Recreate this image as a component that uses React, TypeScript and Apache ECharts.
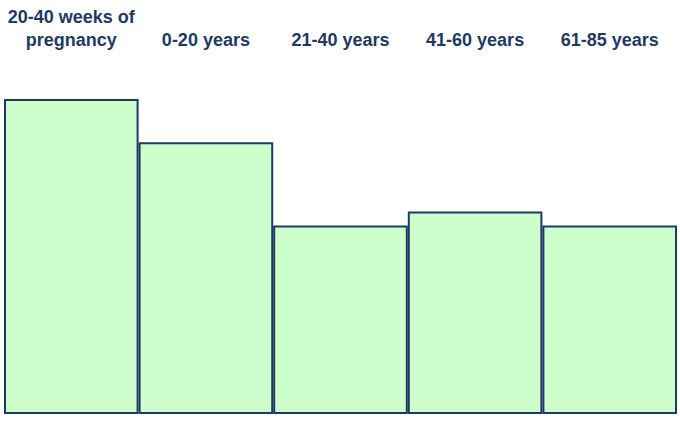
import React, { useEffect, useRef } from "react";
import * as echarts from "echarts";

const categories = ["20-40 weeks of\npregnancy", "0-20 years", "21-40 years", "41-60 years", "61-85 years"];
const values = [314, 271, 188, 202, 188];
const yMax = 353;

export default function App() {
  const ref = useRef<HTMLDivElement>(null);
  useEffect(() => {
    const chart = echarts.init(ref.current!, null, { renderer: "svg" });
    chart.setOption({
      animation: false,
      backgroundColor: "#ffffff",
      grid: { left: 4, right: 3, top: 60, bottom: 11 },
      xAxis: {
        type: "category",
        position: "top",
        data: categories,
        axisLine: { show: false },
        axisTick: { show: false },
        axisLabel: {
          margin: 9,
          interval: 0,
          color: "#1F3864",
          fontFamily: "Liberation Sans, Arial, sans-serif",
          fontWeight: "bold",
          fontSize: 18,
          lineHeight: 23,
          align: "center",
        },
      },
      yAxis: {
        type: "value",
        min: 0,
        max: yMax,
        show: false,
        splitLine: { show: false },
      },
      series: [
        {
          type: "bar",
          data: values,
          barCategoryGap: "0%",
          itemStyle: { color: "#CCFFCC", borderColor: "#1F3864", borderWidth: 2 },
        },
      ],
    });
    return () => chart.dispose();
  }, []);
  return <div ref={ref} style={{ position: "absolute", left: 0, top: 0, width: 680, height: 425 }} />;
}
